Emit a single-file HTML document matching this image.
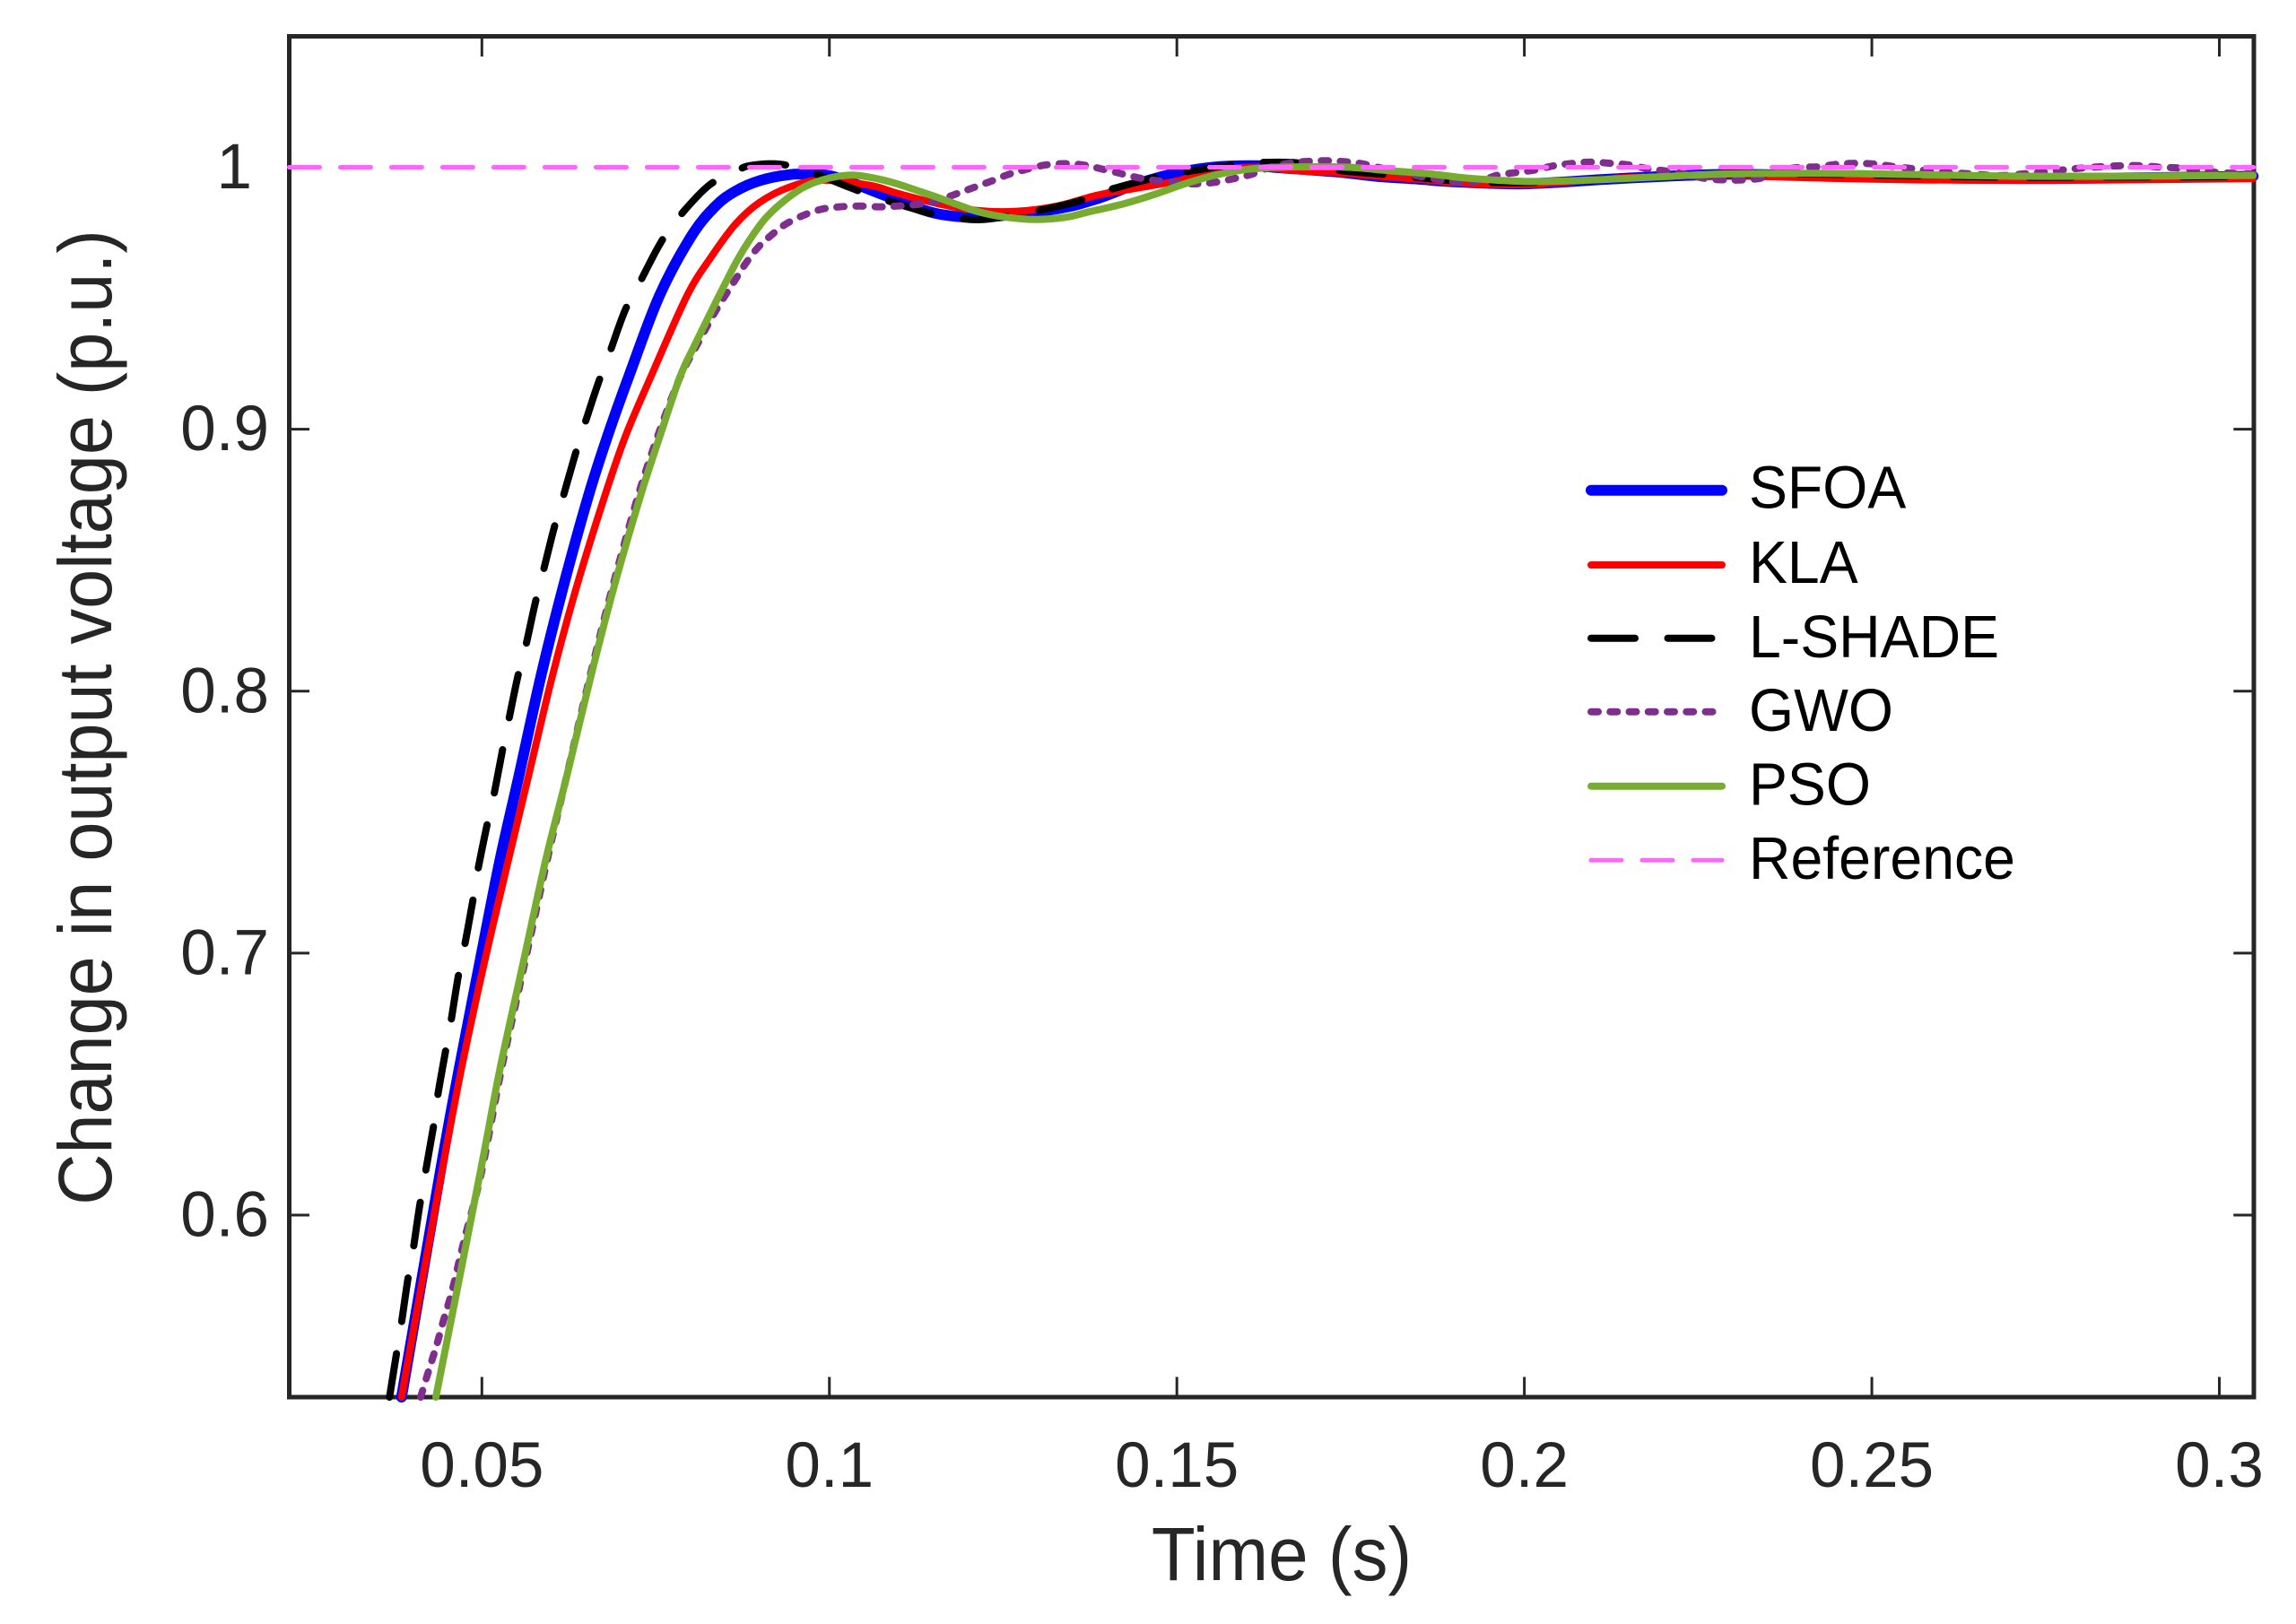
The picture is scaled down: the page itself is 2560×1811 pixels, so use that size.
<!DOCTYPE html>
<html lang="en">
<head>
<meta charset="utf-8">
<title>Change in output voltage vs time</title>
<style>
html,body{margin:0;padding:0;background:#fff;}
svg{display:block;font-family:"Liberation Sans",Arial,sans-serif;}
</style>
</head>
<body>
<svg id="chart" xmlns="http://www.w3.org/2000/svg" width="2560" height="1811" viewBox="0 0 2560 1811">
  <rect x="0" y="0" width="2560" height="1811" fill="#ffffff"/>
  <g id="ticks"></g>
  <g id="tick-labels"></g>
  <rect x="322.5" y="40.5" width="2190.5" height="1517.5" fill="none" stroke="#262626" stroke-width="5"/>
  <g id="series"></g>
  <text transform="translate(1429,1762) scale(.952,1)" font-size="84" fill="#262626" text-anchor="middle">Time (s)</text>
  <text transform="translate(124,800) rotate(-90) scale(.943,1)" font-size="84" fill="#262626" text-anchor="middle">Change in output voltage (p.u.)</text>
  <g id="legend"></g>
</svg>
<script>
const xTickValues = [0.05, 0.1, 0.15, 0.2, 0.25, 0.3];
const xTickLabels = ['0.05', '0.1', '0.15', '0.2', '0.25', '0.3'];
const yTickValues = [0.6, 0.7, 0.8, 0.9, 1];
const yTickLabels = ['0.6', '0.7', '0.8', '0.9', '1'];
const xDomain = [0.02228, 0.30494];
const yDomain = [0.5305, 1.05];

const sfoaTime = [.03844,.04402,.0467,.04961,.05258,.05529,.05852,.06175,.06532,.06807,.07113,.07555,.08016,.08362,.08649,.08996,.09428,.09772,.1012,.10925,.11547,.12237,.13269,.1385,.14431,.15005,.1558,.1616,.16444,.17309,.1789,.18458,.19038,.20007,.21426,.22833,.24253,.25672,.27079,.28499,.30487];
const sfoaValues = [.5305,.6166,.6555,.6953,.7353,.7672,.806,.8403,.8745,.8973,.9201,.951,.9738,.9852,.9909,.9949,.9972,.9972,.996,.988,.9823,.9811,.9841,.988,.9937,.9979,1.0002,1.0006,.9999,.9982,.9965,.9955,.9944,.9937,.9958,.9973,.9968,.9961,.9957,.9959,.9966];

const klaTime = [.03844,.04424,.04703,.05026,.05379,.05667,.06016,.06368,.06768,.07065,.07432,.07952,.083,.08649,.08996,.09423,.09888,.10585,.10972,.11547,.12121,.12702,.13277,.1385,.14431,.14999,.1558,.1616,.16728,.17309,.1789,.18458,.19038,.20007,.21426,.22833,.24253,.25672,.27079,.28499,.30487];
const klaValues = [.5305,.6166,.6555,.6953,.7353,.7672,.806,.8403,.8745,.8973,.9201,.951,.9658,.9783,.9866,.9924,.9951,.9931,.9901,.9862,.9835,.9832,.9852,.9893,.9921,.9948,.9989,1,.9987,.9979,.9966,.9955,.9941,.9934,.996,.9968,.9959,.9952,.9951,.9952,.9957];

const lshadeTime = [.03671,.03774,.03844,.03938,.04015,.04115,.04303,.0436,.04476,.04553,.04661,.04747,.04867,.04935,.0507,.05164,.05293,.05379,.05516,.05625,.05767,.05874,.06033,.06154,.06338,.06464,.0667,.06824,.07054,.0725,.07555,.07803,.08258,.08649,.08851,.09281,.09716,.10321,.10752,.11372,.11811,.12237,.12908,.13566,.13966,.14599,.15005,.15696,.16096,.16728,.17309,.1789,.18458,.19038,.20007,.21426,.22833,.24253,.25672,.27079,.28499,.30487];
const lshadeValues = [.5305,.5476,.559,.5761,.5875,.6052,.6337,.6449,.6624,.6736,.6913,.7022,.7196,.7307,.7484,.7592,.777,.788,.8055,.8165,.8336,.8448,.8617,.8728,.8899,.9007,.9173,.9281,.945,.9549,.9704,.98,.9929,.9983,1.0006,1.0012,.9983,.992,.988,.983,.9807,.9801,.983,.9869,.9909,.9955,.9977,1.0006,1.0017,1.0017,.9989,.9975,.9961,.9948,.9942,.9958,.9972,.9974,.9968,.9962,.9963,.9965];

const gwoTime = [.04119,.04205,.0429,.04368,.04445,.04519,.04592,.04734,.04996,.0528,.05609,.05938,.06216,.06558,.06885,.07246,.07529,.07839,.08081,.08365,.08649,.08791,.08966,.09165,.09372,.0963,.09888,.10146,.10436,.10724,.10972,.11256,.11514,.1179,.12049,.12309,.12569,.12818,.13089,.13372,.13651,.13911,.14182,.14444,.14715,.15005,.15283,.15554,.15825,.16083,.16328,.16651,.16909,.17167,.17425,.17696,.18232,.1878,.19064,.19361,.19619,.19877,.20135,.20432,.20691,.20962,.21246,.21504,.21788,.22059,.22342,.22614,.22872,.23143,.23427,.23724,.23969,.2424,.24511,.24782,.25066,.25331,.25615,.25879,.26131,.26408,.26846,.2726,.27525,.27789,.2806,.28344,.28623,.28886,.2917,.29441,.2972,.29983,.30487];
const gwoValues = [.5305,.5381,.5453,.5521,.5596,.5661,.5733,.5892,.6166,.6555,.6953,.7353,.7672,.806,.8403,.8745,.8973,.9191,.9315,.9452,.9572,.9631,.9692,.9741,.9783,.9817,.984,.9849,.9852,.9849,.9852,.9858,.9869,.9895,.992,.9945,.9972,.9991,1.0008,1.0014,1.0009,.9994,.9977,.996,.9949,.9941,.9937,.9943,.9957,.9974,.9999,1.0017,1.0023,1.0025,1.0021,1.0012,.9979,.9952,.9943,.9949,.997,.998,.9989,1.0006,1.0015,1.002,1.0015,1.0009,.9994,.9985,.9972,.9957,.9952,.9952,.996,.9989,1,1.0002,1.0012,1.0015,1.0012,1.0002,.9994,.9983,.998,.9975,.9968,.9977,.9983,.9991,.9998,1.0003,1.0006,1.0006,1,.9997,.9989,.998,.9975];

const psoTime = [.04338,.04979,.05258,.05586,.05916,.06218,.06571,.06906,.07281,.07561,.07852,.08073,.08304,.08477,.08678,.08851,.09083,.09372,.09655,.10004,.1035,.10696,.10972,.11256,.11547,.11837,.12121,.12469,.12934,.13392,.13734,.14199,.14663,.15115,.1558,.1598,.16444,.16961,.17483,.18058,.18639,.19207,.20007,.20716,.21426,.22131,.22833,.24253,.25672,.27079,.28499,.30487];
const psoValues = [.5305,.6166,.6555,.6953,.7353,.7672,.806,.8403,.8745,.8973,.9201,.9327,.9452,.9544,.9647,.9722,.9806,.9877,.9927,.9959,.997,.9956,.9937,.9912,.9886,.9858,.9832,.9812,.9801,.9809,.983,.9858,.9895,.9937,.9972,.9991,1,1.0002,1,.9987,.9975,.9958,.9946,.9949,.9957,.9966,.9974,.9977,.9972,.9966,.9966,.9969];

const referenceTime = [0.02228, 0.30494];
const referenceValues = [1, 1];

const SVG_NS = 'http://www.w3.org/2000/svg';
const plot = {left: 322.5, right: 2512.8, top: 40.5, bottom: 1558};
const tickLength = 22.5;

function xScale(t) {
  return plot.left + (t - xDomain[0]) / (xDomain[1] - xDomain[0]) * (plot.right - plot.left);
}
function yScale(v) {
  return plot.bottom - (v - yDomain[0]) / (yDomain[1] - yDomain[0]) * (plot.bottom - plot.top);
}
function smoothPath(ts, vs) {
  const p = ts.map((t, i) => [xScale(t), yScale(vs[i])]);
  let d = 'M' + p[0][0].toFixed(2) + ' ' + p[0][1].toFixed(2);
  for (let i = 0; i < p.length - 1; i++) {
    const a = p[Math.max(i - 1, 0)], b = p[i], c = p[i + 1], e = p[Math.min(i + 2, p.length - 1)];
    const c1x = b[0] + (c[0] - a[0]) / 6, c1y = b[1] + (c[1] - a[1]) / 6;
    const c2x = c[0] - (e[0] - b[0]) / 6, c2y = c[1] - (e[1] - b[1]) / 6;
    d += 'C' + c1x.toFixed(2) + ' ' + c1y.toFixed(2) + ' ' + c2x.toFixed(2) + ' ' + c2y.toFixed(2) + ' ' + c[0].toFixed(2) + ' ' + c[1].toFixed(2);
  }
  return d;
}
function tickLine(parent, x1, y1, x2, y2) {
  const l = document.createElementNS(SVG_NS, 'line');
  
  
  l.setAttribute('x1', x1);
  l.setAttribute('y1', y1);
  l.setAttribute('x2', x2);
  l.setAttribute('y2', y2);
  l.setAttribute('stroke', '#262626');
  l.setAttribute('stroke-width', '3');
  parent.appendChild(l);
}

const tickGroup = document.getElementById('ticks');
const labelGroup = document.getElementById('tick-labels');

xTickValues.forEach((t, i) => {
  const x = xScale(t);
  tickLine(tickGroup, x, plot.bottom, x, plot.bottom - tickLength);
  tickLine(tickGroup, x, plot.top, x, plot.top + tickLength);
  const label = document.createElementNS(SVG_NS, 'text');
  
  
  label.setAttribute('x', x);
  label.setAttribute('y', 1658);
  label.setAttribute('font-size', '71');
  label.setAttribute('fill', '#262626');
  label.setAttribute('text-anchor', 'middle');
  label.textContent = xTickLabels[i];
  labelGroup.appendChild(label);
});

yTickValues.forEach((v, i) => {
  const y = yScale(v);
  tickLine(tickGroup, plot.left, y, plot.left + tickLength, y);
  tickLine(tickGroup, plot.right, y, plot.right - tickLength, y);
  const label = document.createElementNS(SVG_NS, 'text');
  
  
  label.setAttribute('x', yTickLabels[i].length === 1 ? 281 : 300);
  label.setAttribute('y', y + 23.5);
  label.setAttribute('font-size', '71');
  label.setAttribute('fill', '#262626');
  label.setAttribute('text-anchor', 'end');
  label.textContent = yTickLabels[i];
  labelGroup.appendChild(label);
});

const seriesGroup = document.getElementById('series');
function addSeries(name, ts, vs, color, width, dash) {
  const path = document.createElementNS(SVG_NS, 'path');
  
  
  path.setAttribute('d', smoothPath(ts, vs));
  path.setAttribute('fill', 'none');
  path.setAttribute('stroke', color);
  path.setAttribute('stroke-width', width);
  path.setAttribute('stroke-linecap', 'round');
  path.setAttribute('stroke-linejoin', 'round');
  if (dash) path.setAttribute('stroke-dasharray', dash);
  seriesGroup.appendChild(path);
}
addSeries('sfoa-line', sfoaTime, sfoaValues, '#0000ff', 12, '');
addSeries('kla-line', klaTime, klaValues, '#ff0000', 8, '');
addSeries('l-shade-line', lshadeTime, lshadeValues, '#000000', 8, '49 36.5');
addSeries('gwo-line', gwoTime, gwoValues, '#7e2f8e', 8, '8 13.25');
addSeries('pso-line', psoTime, psoValues, '#77ac30', 8, '');
addSeries('reference-line', referenceTime, referenceValues, '#ff66ff', 5, '34 23');

const legendLabels = ['SFOA', 'KLA', 'L-SHADE', 'GWO', 'PSO', 'Reference'];
const legendColors = ['#0000ff', '#ff0000', '#000000', '#7e2f8e', '#77ac30', '#ff66ff'];
const legendWidths = [12, 8, 8, 8, 8, 5];
const legendDashes = ['', '', '49 36.5', '8 13.25', '', '34 23'];
const legendLineY = [546.7, 630, 711.7, 793.7, 876.7, 959.3];
const legendTextY = [566.7, 650, 733, 815, 897.7, 980];
const legendGroup = document.getElementById('legend');
legendLabels.forEach((name, i) => {
  const swatch = document.createElementNS(SVG_NS, 'line');
  
  
  swatch.setAttribute('x1', 1774);
  swatch.setAttribute('x2', 1920);
  swatch.setAttribute('y1', legendLineY[i]);
  swatch.setAttribute('y2', legendLineY[i]);
  swatch.setAttribute('stroke', legendColors[i]);
  swatch.setAttribute('stroke-width', legendWidths[i]);
  swatch.setAttribute('stroke-linecap', 'round');
  if (legendDashes[i]) swatch.setAttribute('stroke-dasharray', legendDashes[i]);
  legendGroup.appendChild(swatch);
  const text = document.createElementNS(SVG_NS, 'text');
  
  
  text.setAttribute('transform', 'translate(1950,' + legendTextY[i] + ') scale(.961,1)');
  text.setAttribute('font-size', '67');
  text.setAttribute('fill', '#000000');
  text.textContent = name;
  legendGroup.appendChild(text);
});
</script>
</body>
</html>
